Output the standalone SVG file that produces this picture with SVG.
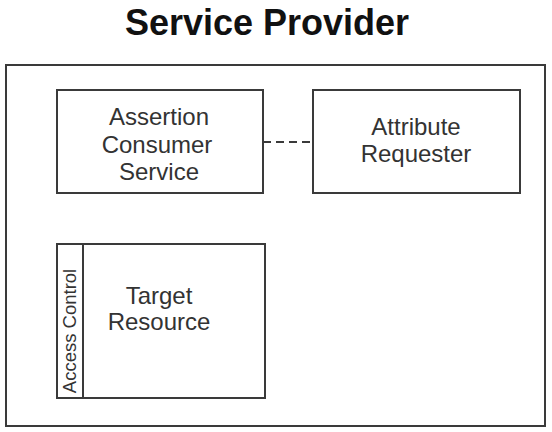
<svg xmlns="http://www.w3.org/2000/svg" width="552" height="432" viewBox="0 0 552 432">
<style>
.box{fill:#fff;stroke:#3a3a3a;stroke-width:2}
.lbl{font-family:"Liberation Sans",Arial,sans-serif;font-size:24px;fill:#333;text-anchor:middle}
.title{font-family:"Liberation Sans",Arial,sans-serif;font-size:36px;font-weight:bold;fill:#111;text-anchor:middle}
</style>
<rect width="552" height="432" fill="#fff"/>
<text class="title" x="267" y="35">Service Provider</text>
<g id="service-provider"><rect class="box" x="6" y="65" width="539" height="361"/></g>
<g id="connectors"><line x1="263" y1="142" x2="313" y2="142" stroke="#3a3a3a" stroke-width="2" stroke-dasharray="8,5"/></g>
<g id="acs"><rect class="box" x="57" y="90" width="206" height="103"/>
<text class="lbl" x="159" y="125">Assertion</text><text class="lbl" x="157" y="153">Consumer</text><text class="lbl" x="159" y="180">Service</text></g>
<g id="attr"><rect class="box" x="313" y="90" width="207" height="103"/>
<text class="lbl" x="416" y="135">Attribute</text><text class="lbl" x="416" y="162">Requester</text></g>
<g id="target"><rect class="box" x="57" y="244" width="208" height="154"/>
<line x1="83" y1="244" x2="83" y2="398" stroke="#3a3a3a" stroke-width="2"/>
<text class="lbl" x="159" y="304">Target</text><text class="lbl" x="159" y="330">Resource</text>
<text class="lbl" style="font-size:18.5px" transform="translate(76,331) rotate(-90)">Access Control</text></g>
</svg>
